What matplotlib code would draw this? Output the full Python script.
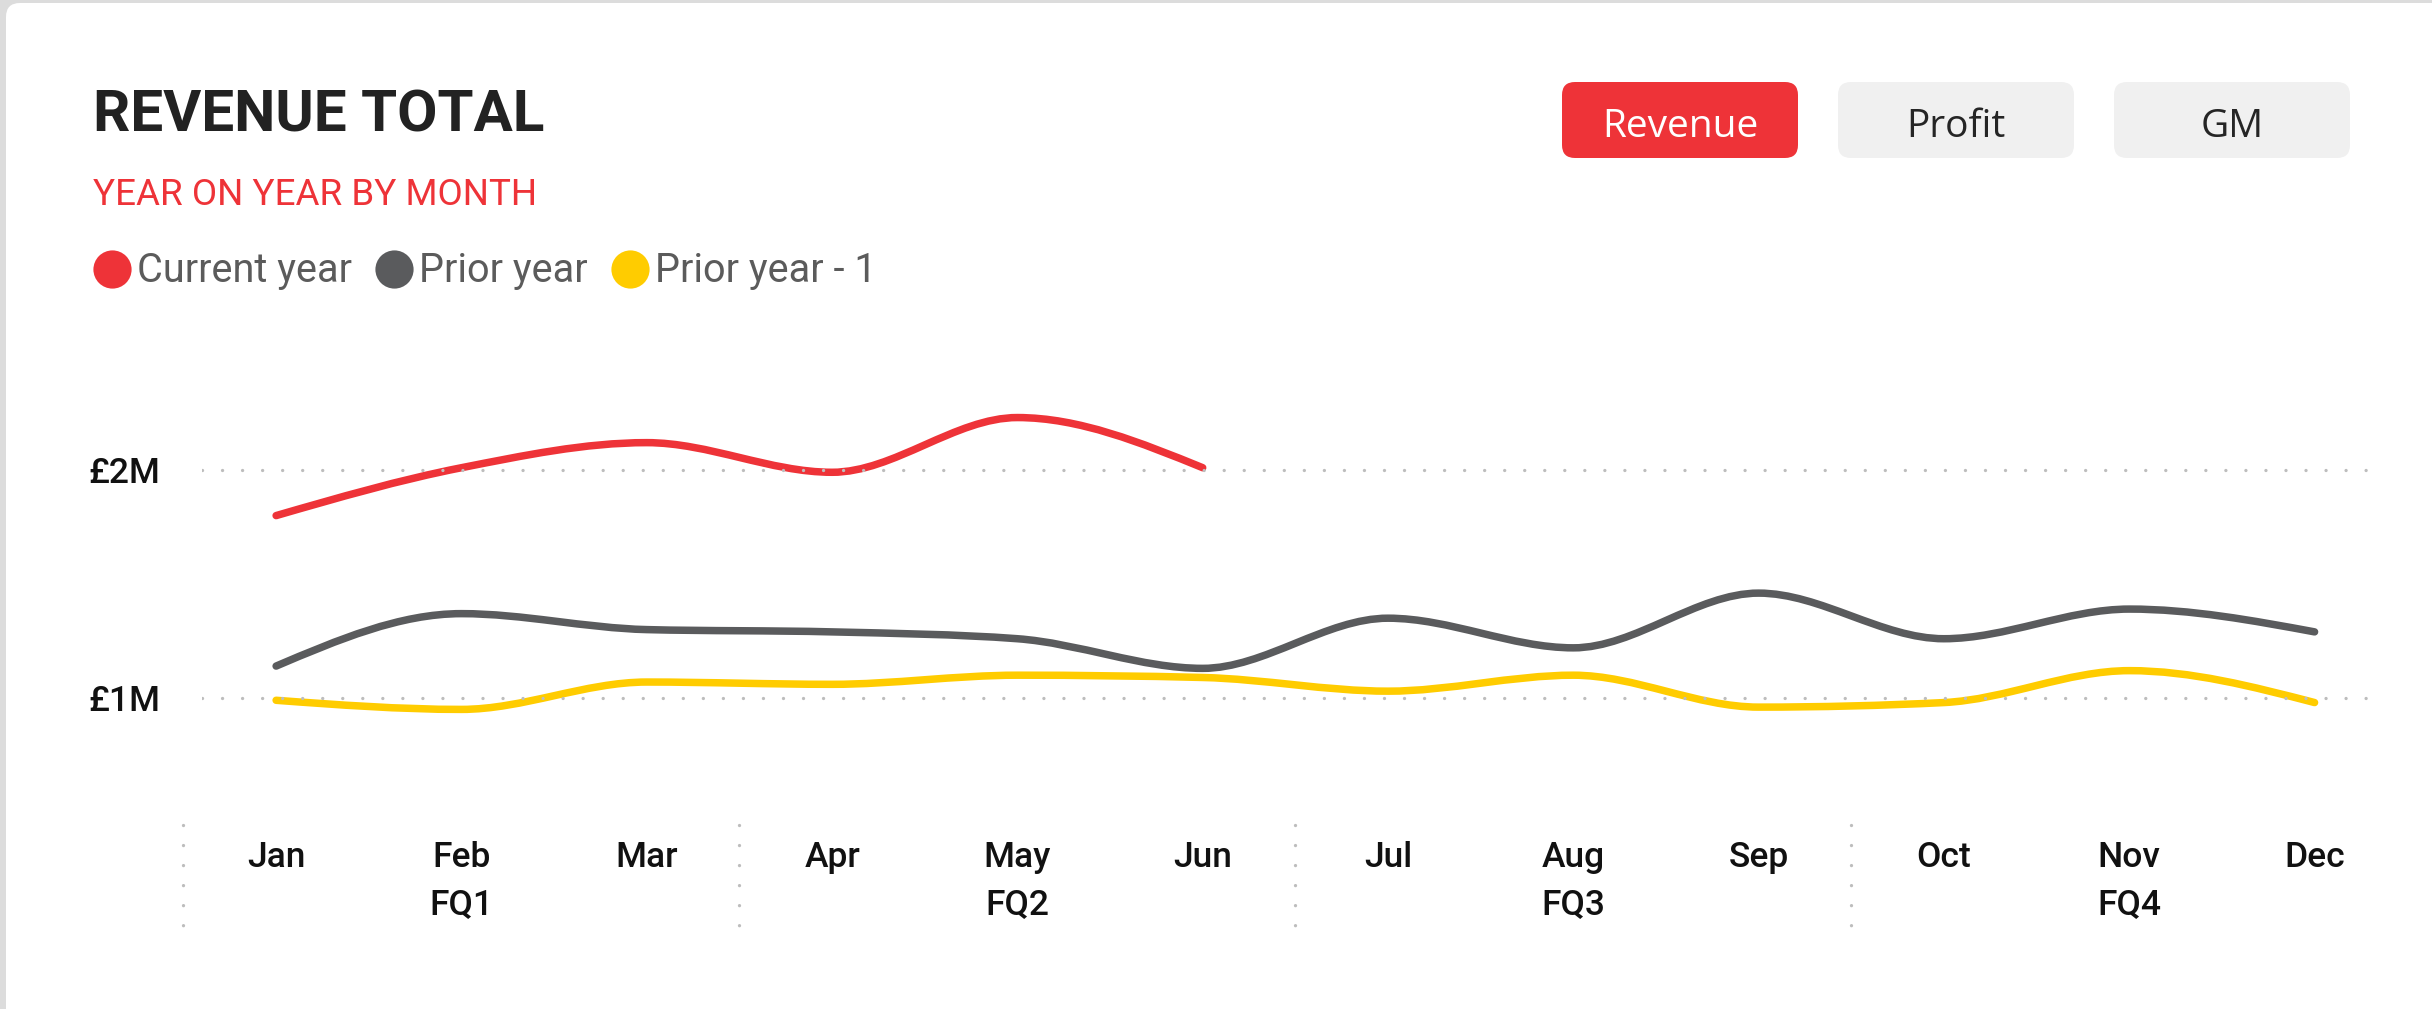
import numpy as np
import matplotlib.pyplot as plt
from matplotlib.patches import FancyBboxPatch, PathPatch
from matplotlib.path import Path
from matplotlib.lines import Line2D

months = ["Jan", "Feb", "Mar", "Apr", "May", "Jun",
          "Jul", "Aug", "Sep", "Oct", "Nov", "Dec"]
quarters = ["FQ1", "FQ2", "FQ3", "FQ4"]
# revenue in £M
current_year = [1.80, 2.01, 2.12, 1.99, 2.23, 2.01]
prior_year = [1.14, 1.37, 1.30, 1.29, 1.26, 1.13, 1.35, 1.22, 1.46, 1.26, 1.39, 1.29]
prior_year_1 = [0.99, 0.95, 1.07, 1.06, 1.10, 1.09, 1.03, 1.10, 0.96, 0.98, 1.12, 0.98]
buttons = ["Revenue", "Profit", "GM"]

RED = "#EE3338"
GREY = "#5A5B5D"
YELLOW = "#FFCC00"
FONT = ["Roboto", "DejaVu Sans"]

W, H = 2432, 1009
fig = plt.figure(figsize=(W / 100, H / 100), dpi=100)
fig.patch.set_facecolor("#DCDCDC")

# background axes in pixel units for card, title, buttons, legend
bg = fig.add_axes([0, 0, 1, 1])
bg.set_xlim(0, W)
bg.set_ylim(H, 0)
bg.axis("off")
bg.add_patch(FancyBboxPatch((6, 3), W + 20, H + 20,
                            boxstyle="round,pad=0,rounding_size=14",
                            fc="white", ec="none"))

bg.text(93, 131, "REVENUE TOTAL", fontsize=42, fontweight="bold",
        color="#222222", family=FONT, va="baseline")
bg.text(93, 205, "YEAR ON YEAR BY MONTH", fontsize=26.5,
        color=RED, family=FONT, va="baseline")

btn_x = [1562, 1838, 2114]
for i, name in enumerate(buttons):
    active = i == 0
    bg.add_patch(FancyBboxPatch((btn_x[i], 82), 236, 76,
                                boxstyle="round,pad=0,rounding_size=13",
                                fc=RED if active else "#F0F0F0", ec="none"))
    bg.text(btn_x[i] + 118, 127, name, fontsize=28,
            color="white" if active else "#252525",
            family=["Open Sans", "DejaVu Sans"], ha="center", va="center")

handles = [Line2D([], [], ls="none", marker="o", markersize=27.5,
                  markerfacecolor=c, markeredgecolor="none")
           for c in (RED, GREY, YELLOW)]
leg = bg.legend(handles, ["Current year", "Prior year", "Prior year - 1"],
                loc="center left", bbox_to_anchor=(93, 271),
                bbox_transform=bg.transData, ncol=3, frameon=False,
                handlelength=0.95, handletextpad=0.15, columnspacing=0.6,
                borderpad=0, borderaxespad=0,
                prop={"family": FONT, "size": 28.5})
for t in leg.get_texts():
    t.set_color("#5B5B5B")

# main chart axes
left, right, top, bottom = 202, 2385, 378.8, 823.4
ax = fig.add_axes([left / W, 1 - bottom / H, (right - left) / W, (bottom - top) / H])
ax.patch.set_alpha(0)
ax.set_xlim(-0.4, 11.38)
ax.set_ylim(0.45, 2.4)
for s in ax.spines.values():
    s.set_visible(False)

dots = dict(color="#BDBDBD", lw=2.4, linestyle=(0, (0.01, 6.0)),
            dash_capstyle="round")
ax.set_yticks([1, 2])
ax.set_yticklabels(["£1M", "£2M"])
ax.yaxis.grid(True, **dots)
ax.tick_params(axis="y", length=0, pad=30, labelsize=25.5, labelcolor="#111111")

ax.set_xticks(range(12))
ax.set_xticklabels(months)
ax.tick_params(axis="x", length=0, pad=13, labelsize=25.5, labelcolor="#111111")

sec = ax.secondary_xaxis("bottom")
sec.set_xticks([1, 4, 7, 10])
sec.set_xticklabels(quarters)
sec.tick_params(length=0, pad=47, labelsize=25.5, labelcolor="#111111")
sec.spines["bottom"].set_visible(False)
for lab in ax.get_xticklabels() + ax.get_yticklabels() + sec.get_xticklabels():
    lab.set_family(FONT)
    lab.set_fontweight("medium")

# quarter separators
for xs in [-0.5, 2.5, 5.5, 8.5]:
    ax.plot([xs, xs], [-0.004, -0.233], transform=ax.get_xaxis_transform(),
            clip_on=False, **dots)


def monotone_path(ys):
    # cubic bezier through the points with monotone (d3 monotoneX style) tangents
    xs = np.arange(len(ys), dtype=float)
    ys = np.asarray(ys, dtype=float)
    s = np.diff(ys)
    t = np.zeros(len(ys))
    for i in range(1, len(ys) - 1):
        s0, s1 = s[i - 1], s[i]
        p = (s0 + s1) / 2
        t[i] = (np.sign(s0) + np.sign(s1)) * min(abs(s0), abs(s1), 0.5 * abs(p))
    t[0] = (3 * s[0] - t[1]) / 2
    t[-1] = (3 * s[-1] - t[-2]) / 2
    verts = [(xs[0], ys[0])]
    codes = [Path.MOVETO]
    for i in range(len(ys) - 1):
        d = 1 / 3
        verts += [(xs[i] + d, ys[i] + d * t[i]),
                  (xs[i + 1] - d, ys[i + 1] - d * t[i + 1]),
                  (xs[i + 1], ys[i + 1])]
        codes += [Path.CURVE4] * 3
    return Path(verts, codes)


for series, col in [(prior_year_1, YELLOW), (prior_year, GREY), (current_year, RED)]:
    ax.add_patch(PathPatch(monotone_path(series), fc="none", ec=col, lw=5.4,
                           capstyle="round", joinstyle="round"))

fig.savefig("out.png", dpi=100)
